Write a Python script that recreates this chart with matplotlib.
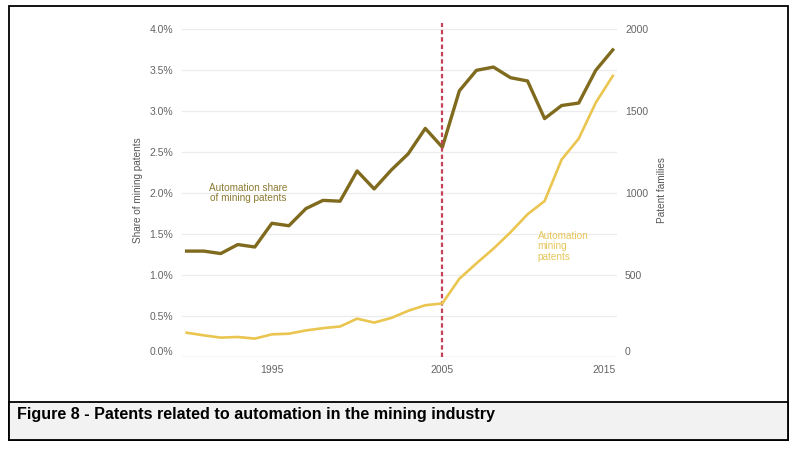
import matplotlib
matplotlib.use("Agg")
import matplotlib.pyplot as plt
from matplotlib.patches import Rectangle
from matplotlib.ticker import FuncFormatter
from matplotlib.transforms import ScaledTranslation

years = list(range(1990, 2016))
share_pct = [1.29, 1.29, 1.26, 1.37, 1.34, 1.63, 1.60, 1.81, 1.91, 1.90,
             2.27, 2.05, 2.28, 2.48, 2.79, 2.56, 3.25, 3.50, 3.54, 3.41,
             3.37, 2.91, 3.07, 3.10, 3.50, 3.75]
patent_families = [146, 130, 116, 120, 110, 136, 140, 160, 174, 184,
                   232, 208, 236, 280, 314, 325, 476, 570, 660, 760,
                   870, 951, 1205, 1332, 1552, 1716]
left_ticks = [0.0, 0.5, 1.0, 1.5, 2.0, 2.5, 3.0, 3.5, 4.0]
right_ticks = [0, 500, 1000, 1500, 2000]
x_ticks = [1995, 2005, 2015]
marker_year = 2005
caption = "Figure 8 - Patents related to automation in the mining industry"

W, H = 796, 451
fig = plt.figure(figsize=(W / 100, H / 100), dpi=100)
fig.patch.set_facecolor("white")

def px_rect(x0, y0, x1, y1, **kw):
    r = Rectangle((x0 / W, 1 - y1 / H), (x1 - x0) / W, (y1 - y0) / H,
                  transform=fig.transFigure, **kw)
    fig.add_artist(r)
    return r

px_rect(8.5, 5.5, 788, 440, facecolor="white", edgecolor="black", lw=1.3, zorder=0)
px_rect(8.5, 401.5, 788, 440, facecolor="#F2F2F2", edgecolor="black", lw=1.3, zorder=1)
fig.text(17 / W, 1 - 414 / H, caption, fontsize=11.6, fontweight="bold",
         family=["Liberation Sans", "DejaVu Sans"],
         ha="left", va="center", color="black")

ax = fig.add_axes([181.7 / W, 1 - 356.6 / H, (616.7 - 181.7) / W, (356.6 - 22.9) / H])
ax.set_facecolor("none")
ax.set_xlim(1989.71, 2015.23)
ax.set_ylim(0, 4.08)

tick_col = "#646464"
font = ["Liberation Sans", "DejaVu Sans"]

for t in left_ticks[1:]:
    ax.axhline(t, color="#ececec", lw=0.9, zorder=1)
ax.axhline(0, color="#d0d0d0", lw=1.0, zorder=1)

for s in ax.spines.values():
    s.set_visible(False)

ax.plot(years, share_pct, color="#7F6A1E", lw=2.4, zorder=3)

ax2 = ax.twinx()
ax2.set_ylim(0, 4.08 * 500)
for s in ax2.spines.values():
    s.set_visible(False)
ax2.plot(years, patent_families, color="#EAC54F", lw=1.9, zorder=3)

ax.axvline(marker_year, color="#C4435A", lw=1.6, ls=(0, (2.0, 1.3)), zorder=4)

ax.set_yticks(left_ticks)
ax.yaxis.set_major_formatter(FuncFormatter(lambda v, p: f"{v:.1f}%"))
ax.set_xticks(x_ticks)
ax.tick_params(axis="both", length=0, labelsize=7.5, colors=tick_col, pad=6)
ax.tick_params(axis="y", pad=6)
ax2.set_yticks(right_ticks)
ax2.tick_params(axis="y", length=0, labelsize=7.5, colors=tick_col, pad=6)
for lbl in ax.get_xticklabels() + ax.get_yticklabels() + ax2.get_yticklabels():
    lbl.set_family(font)

up = ScaledTranslation(0, 6 / 100, fig.dpi_scale_trans)
left = ScaledTranslation(-9 / 100, 0, fig.dpi_scale_trans)
ax.get_yticklabels()[0].set_transform(ax.get_yticklabels()[0].get_transform() + up)
ax2.get_yticklabels()[0].set_transform(ax2.get_yticklabels()[0].get_transform() + up)
ax.get_xticklabels()[-1].set_transform(ax.get_xticklabels()[-1].get_transform() + left)

ax.set_ylabel("Share of mining patents", fontsize=7.2, color="#555555", family=font)
ax2.set_ylabel("Patent families", fontsize=7.2, color="#555555", family=font, rotation=90)
ax2.yaxis.set_label_coords(1.0 + (657 - 616.7) / (616.7 - 181.7), 0.5)
ax.yaxis.set_label_coords(-(181.7 - 143) / (616.7 - 181.7), 0.5)

ax.text(1993.6, 2.0, "Automation share\nof mining patents", fontsize=7.2, color="#8C7A32",
        family=font, ha="center", va="center", linespacing=1.1)
ax2.text(2010.6, 770, "Automation\nmining\npatents", fontsize=7.2, color="#E6C65A",
         family=font, ha="left", va="top", linespacing=1.1)

fig.savefig("out.png", dpi=100, facecolor="white")
